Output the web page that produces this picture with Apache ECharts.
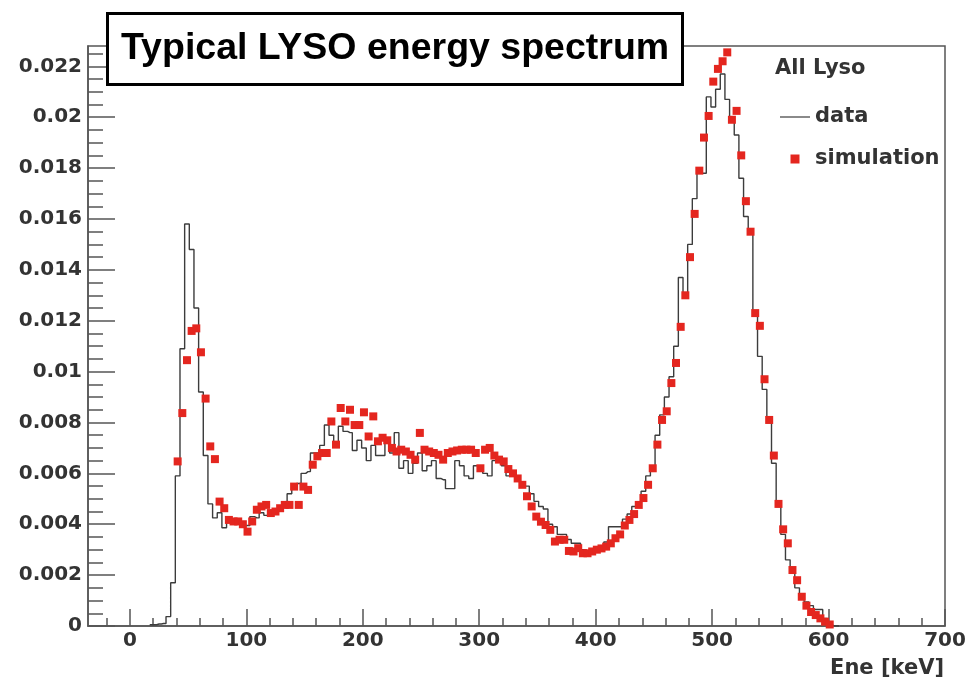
<!DOCTYPE html>
<html lang="en">
<head>
    <meta charset="UTF-8">
    <title>Typical LYSO energy spectrum</title>
    <script src="https://cdn.jsdelivr.net/npm/echarts@6/dist/echarts.min.js"></script>
    <style>
        html, body { margin: 0; padding: 0; background: #fff; }
        #chart { width: 969px; height: 685px; }
    </style>
</head>
<body>
<div id="chart"></div>
<script>
    // histogram binning in keV (bin centres)
    var binWidth = 4;
    var dataFirstCentre = 17;
    var simFirstCentre = 41;
    var yUnit = 0.001;

    // measured spectrum, in units of 1e-3
    var dataValues = [
        0.05, 0.05, 0.08, 0.1, 0.37, 1.7, 5.9, 10.9, 15.8, 14.8,
        12.5, 9.2, 6.7, 4.8, 4.25, 4.45, 3.86, 4.1, 4.2, 4.0,
        4.1, 3.95, 4.3, 4.25, 4.45, 4.35, 4.5, 4.4, 4.65, 4.8,
        5.2, 5.5, 5.6, 6.0, 6.07, 6.8, 6.8, 7.1, 7.9, 7.5,
        7.2, 7.85, 7.65, 7.6, 6.9, 7.3, 7.0, 6.5, 7.1, 6.7,
        6.7, 7.2, 6.8, 7.6, 6.2, 6.5, 6.0, 6.4, 6.8, 6.1,
        6.3, 6.5, 5.8, 5.75, 5.4, 5.4, 6.5, 6.3, 5.9, 5.8,
        6.3, 6.2, 6.0, 5.9, 6.5, 6.5, 6.3, 5.9, 5.9, 5.75,
        5.5, 5.5, 5.2, 4.9, 4.7, 4.6, 4.0, 3.9, 3.6, 3.6,
        3.4, 3.25, 3.25, 3.0, 2.95, 3.0, 2.95, 3.1, 3.3, 3.9,
        3.9, 3.9, 4.2, 4.4, 4.7, 4.8, 5.3, 5.9, 6.3, 7.5,
        8.3, 9.0, 9.8, 11.0, 13.7, 13.0, 15.0, 16.8, 17.9, 17.8,
        20.8, 20.4, 21.1, 21.7, 20.7, 19.9, 19.3, 17.6, 16.1, 15.6,
        12.3, 10.6, 9.3, 8.0, 6.4, 4.7, 3.6, 2.6, 2.2, 1.5,
        1.1, 0.95, 0.8, 0.65, 0.65, 0.3, 0.05, 0, 0
    ];

    // simulated spectrum, in units of 1e-3
    var simValues = [
        6.47, 8.37, 10.45, 11.6, 11.7, 10.76, 8.94, 7.06, 6.56, 4.89,
        4.63, 4.17, 4.11, 4.11, 4.0, 3.71, 4.11, 4.57, 4.7, 4.76,
        4.44, 4.5, 4.63, 4.76, 4.76, 5.48, 4.76, 5.48, 5.35, 6.34,
        6.67, 6.8, 6.8, 8.04, 7.13, 8.57, 8.04, 8.5, 7.9, 7.9,
        8.4, 7.45, 8.24, 7.26, 7.4, 7.3, 7.0, 6.86, 6.93, 6.86,
        6.73, 6.54, 7.59, 6.93, 6.86, 6.8, 6.73, 6.54, 6.8, 6.86,
        6.9, 6.93, 6.93, 6.93, 6.8, 6.2, 6.93, 7.0, 6.7, 6.54,
        6.47, 6.17, 6.0, 5.8, 5.55, 5.1, 4.7, 4.3, 4.1, 3.97,
        3.78, 3.32, 3.39, 3.39, 2.95, 2.93, 3.06, 2.86, 2.86, 2.93,
        3.0, 3.05, 3.12, 3.25, 3.45, 3.6, 3.95, 4.17, 4.4, 4.76,
        5.03, 5.55, 6.2, 7.13, 8.1, 8.44, 9.55, 10.34, 11.76, 13.0,
        14.5, 16.2, 17.9, 19.2, 20.05, 21.4, 21.9, 22.2, 22.55, 19.9,
        20.25, 18.5, 16.7, 15.5, 12.3, 11.8, 9.7, 8.1, 6.7, 4.8,
        3.8, 3.25, 2.2, 1.8, 1.15, 0.8, 0.55, 0.43, 0.3, 0.17,
        0.06
    ];

    var xTicks = [0, 100, 200, 300, 400, 500, 600, 700];
    var xMinorTicks = [-20, 20, 40, 60, 80, 120, 140, 160, 180, 220, 240, 260, 280,
        320, 340, 360, 380, 420, 440, 460, 480, 520, 540, 560, 580, 620, 640, 660, 680];
    var yTicks = [0, 0.002, 0.004, 0.006, 0.008, 0.01, 0.012, 0.014, 0.016, 0.018, 0.02, 0.022];
    var yMinorTicks = [0.0005, 0.001, 0.0015, 0.0025, 0.003, 0.0035, 0.0045, 0.005, 0.0055,
        0.0065, 0.007, 0.0075, 0.0085, 0.009, 0.0095, 0.0105, 0.011, 0.0115,
        0.0125, 0.013, 0.0135, 0.0145, 0.015, 0.0155, 0.0165, 0.017, 0.0175,
        0.0185, 0.019, 0.0195, 0.0205, 0.021, 0.0215, 0.0225];

    function toPoints(first, values) {
        var pts = [];
        for (var i = 0; i < values.length; i++) {
            pts.push([first + i * binWidth, values[i] * yUnit]);
        }
        return pts;
    }

    var axisColor = '#555';
    var tickStyle = { color: axisColor, width: 1.5 };
    var labelFont = { fontFamily: 'DejaVu Sans', fontWeight: 'bold', fontSize: 20, color: '#333' };

    var chart = echarts.init(document.getElementById('chart'));
    chart.setOption({
        animation: false,
        backgroundColor: '#fff',
        title: {
            text: 'Typical LYSO energy spectrum',
            left: 107,
            top: 13,
            padding: [15, 14],
            backgroundColor: '#fff',
            borderColor: '#000',
            borderWidth: 3,
            textStyle: { fontFamily: 'Liberation Sans', fontWeight: 'bold', fontSize: 37.5, lineHeight: 42, color: '#000' }
        },
        legend: {
            orient: 'vertical',
            left: 780,
            top: 106,
            padding: 0,
            itemWidth: 30,
            itemHeight: 9,
            itemGap: 20,
            textStyle: { fontFamily: 'DejaVu Sans', fontWeight: 'bold', fontSize: 21, lineHeight: 22, color: '#333' },
            data: [
                { name: 'data', icon: 'path://M0,0H30V1.2H0Z' },
                { name: 'simulation', icon: 'path://M0,0H10V10H0Z' }
            ]
        },
        graphic: [
            { type: 'text', left: 775, top: 58, style: { text: 'All Lyso', font: 'bold 21px "DejaVu Sans"', fill: '#333' } },
            { type: 'text', right: 25, top: 658, style: { text: 'Ene [keV]', font: 'bold 21px "DejaVu Sans"', fill: '#333' } }
        ],
        grid: {
            left: 88, right: 24, top: 46, bottom: 59,
            show: true,
            borderColor: axisColor,
            borderWidth: 1.5
        },
        xAxis: [{
            type: 'value',
            min: -36,
            max: 700,
            position: 'bottom',
            axisLine: { onZero: false, lineStyle: tickStyle },
            axisTick: { inside: true, length: 17, customValues: xTicks, lineStyle: tickStyle },
            axisLabel: Object.assign({ customValues: xTicks, margin: 5 }, labelFont),
            splitLine: { show: false }
        }, {
            type: 'value',
            min: -36,
            max: 700,
            position: 'bottom',
            axisLine: { show: false, onZero: false },
            axisTick: { inside: true, length: 8, customValues: xMinorTicks, lineStyle: tickStyle },
            axisLabel: { show: false },
            splitLine: { show: false }
        }],
        yAxis: [{
            type: 'value',
            min: 0,
            max: 0.0228,
            position: 'left',
            axisLine: { show: true, onZero: false, lineStyle: tickStyle },
            axisTick: { show: true, inside: true, length: 27, customValues: yTicks, lineStyle: tickStyle },
            axisLabel: Object.assign({
                customValues: yTicks,
                margin: 6,
                formatter: function (v) { return String(v); }
            }, labelFont),
            splitLine: { show: false }
        }, {
            type: 'value',
            min: 0,
            max: 0.0228,
            position: 'left',
            axisLine: { show: false, onZero: false },
            axisTick: { show: true, inside: true, length: 15, customValues: yMinorTicks, lineStyle: tickStyle },
            axisLabel: { show: false },
            splitLine: { show: false }
        }],
        series: [{
            name: 'data',
            type: 'line',
            step: 'middle',
            symbol: 'none',
            lineStyle: { color: '#3c3c3c', width: 1.4 },
            itemStyle: { color: '#3c3c3c' },
            data: toPoints(dataFirstCentre, dataValues),
            z: 2
        }, {
            name: 'simulation',
            type: 'scatter',
            symbol: 'rect',
            symbolSize: 8,
            itemStyle: { color: '#e4261f', opacity: 1 },
            data: toPoints(simFirstCentre, simValues),
            z: 3
        }]
    });
</script>
</body>
</html>
